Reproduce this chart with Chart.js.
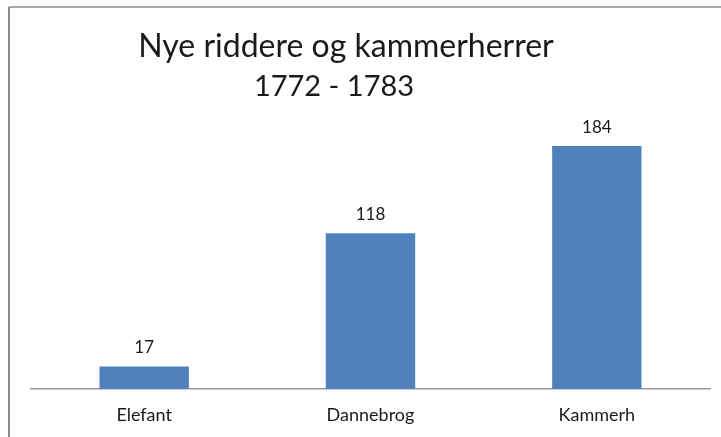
<!DOCTYPE html>
<html>
<head>
<meta charset="utf-8">
<script src="https://cdn.jsdelivr.net/npm/chart.js@4"></script>
<style>
  html, body { margin: 0; padding: 0; background: #fff; }
  #wrap { width: 721px; height: 437px; position: relative; }
</style>
</head>
<body>
<div id="wrap"><canvas id="c" width="721" height="437"></canvas></div>
<script>
const categories = ["Elefant", "Dannebrog", "Kammerh"];
const values = [17, 118, 184];
const titleLines = ["Nye riddere og kammerherrer", "1772 - 1783"];

const FONT = "Lato, 'Open Sans', sans-serif";
const TEXT = "#1a1a1a";

const framePlugin = {
  id: "frame",
  beforeDraw(chart) {
    const ctx = chart.ctx;
    ctx.save();
    ctx.fillStyle = "#fff";
    ctx.fillRect(0, 0, chart.width, chart.height);
    ctx.strokeStyle = "#8a8a8a";
    ctx.lineWidth = 2;
    ctx.beginPath();
    ctx.moveTo(9, chart.height);
    ctx.lineTo(9, 7);
    ctx.stroke();
    ctx.lineWidth = 1.5;
    ctx.beginPath();
    ctx.moveTo(9, 7);
    ctx.lineTo(chart.width, 7);
    ctx.stroke();
    ctx.restore();
  },
  afterDraw(chart) {
    const ctx = chart.ctx;
    ctx.save();
    ctx.fillStyle = TEXT;
    ctx.textAlign = "center";
    ctx.textBaseline = "middle";
    ctx.font = "32px " + FONT;
    ctx.fillText(titleLines[0], 346, 47);
    ctx.font = "29px " + FONT;
    ctx.fillText(titleLines[1], 334, 87);
    ctx.restore();
  }
};

const labelPlugin = {
  id: "valueLabels",
  afterDatasetsDraw(chart) {
    const ctx = chart.ctx;
    ctx.save();
    ctx.fillStyle = TEXT;
    ctx.font = "17px " + FONT;
    ctx.textAlign = "center";
    ctx.textBaseline = "middle";
    chart.getDatasetMeta(0).data.forEach((bar, i) => {
      ctx.fillText(String(chart.data.datasets[0].data[i]), bar.x, bar.y - 19);
    });
    ctx.restore();
  }
};

new Chart(document.getElementById("c"), {
  type: "bar",
  data: {
    labels: categories,
    datasets: [{
      data: values,
      backgroundColor: "#4f81bd",
      borderWidth: 0,
      categoryPercentage: 1.0,
      barPercentage: 0.395
    }]
  },
  options: {
    responsive: false,
    animation: false,
    layout: { padding: { left: 31, right: 11, top: 125, bottom: 11 } },
    plugins: { legend: { display: false }, title: { display: false }, tooltip: { enabled: false } },
    scales: {
      x: {
        grid: { display: false, drawTicks: false },
        border: { display: true, color: "#999", width: 1.5 },
        ticks: { color: TEXT, font: { family: FONT, size: 18 }, padding: 15 },
        afterFit(scale) { scale.height = 37; }
      },
      y: { display: false, min: 0, max: 200 }
    }
  },
  plugins: [framePlugin, labelPlugin]
});
</script>
</body>
</html>
